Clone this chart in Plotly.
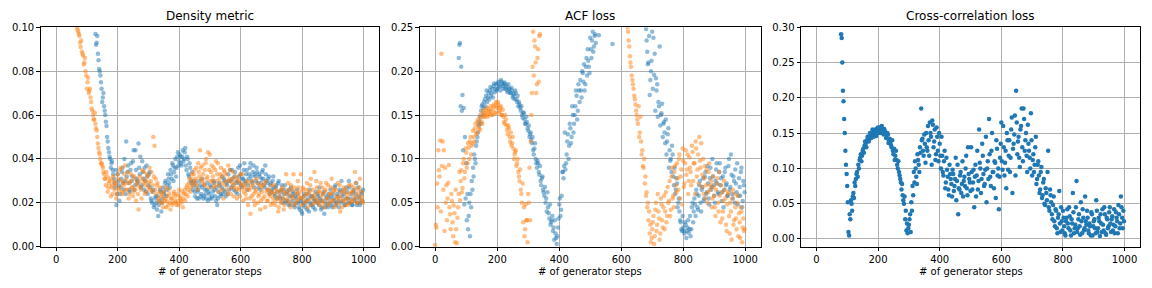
import plotly.graph_objects as go

STEP = 4

# ---------------- Density metric ----------------
density_blue_start = 128
density_blue = [
    0.097, 0.093, 0.088, 0.081, 0.078, 0.072, 0.068, 0.064, 0.060, 0.055,
    0.048, 0.043, 0.040, 0.038, 0.035, 0.031, 0.027, 0.019, 0.033, 0.028,
    0.024, 0.031, 0.036, 0.026, 0.030, 0.048, 0.034, 0.029, 0.025, 0.038,
    0.032, 0.044, 0.028, 0.035, 0.030, 0.047, 0.033, 0.027, 0.039, 0.031,
    0.036, 0.025, 0.032, 0.028, 0.034, 0.022, 0.020, 0.026, 0.019, 0.023,
    0.017, 0.014, 0.021, 0.025, 0.020, 0.027, 0.024, 0.030, 0.026, 0.033,
    0.029, 0.035, 0.031, 0.037, 0.034, 0.040, 0.036, 0.043, 0.039, 0.041,
    0.037, 0.044, 0.040, 0.045, 0.035, 0.040, 0.032, 0.036, 0.029, 0.026,
    0.030, 0.023, 0.027, 0.025, 0.022, 0.028, 0.024, 0.031, 0.023, 0.026,
    0.022, 0.029, 0.025, 0.022, 0.027, 0.023, 0.030, 0.026, 0.021, 0.019,
    0.025, 0.028, 0.024, 0.032, 0.026, 0.030, 0.023, 0.028, 0.033, 0.026,
    0.030, 0.035, 0.028, 0.032, 0.025, 0.030, 0.036, 0.029, 0.033, 0.027,
    0.031, 0.038, 0.030, 0.035, 0.028, 0.033, 0.038, 0.030, 0.034, 0.027,
    0.032, 0.036, 0.029, 0.033, 0.026, 0.031, 0.035, 0.028, 0.037, 0.030,
    0.026, 0.032, 0.028, 0.025, 0.030, 0.027, 0.023, 0.028, 0.025, 0.030,
    0.022, 0.026, 0.020, 0.024, 0.028, 0.021, 0.025, 0.019, 0.023, 0.027,
    0.021, 0.024, 0.018, 0.022, 0.026, 0.020, 0.017, 0.022, 0.015, 0.019,
    0.024, 0.020, 0.017, 0.022, 0.026, 0.019, 0.023, 0.018, 0.021, 0.025,
    0.020, 0.023, 0.027, 0.021, 0.018, 0.024, 0.015, 0.020, 0.023, 0.018,
    0.022, 0.026, 0.019, 0.024, 0.021, 0.028, 0.020, 0.023, 0.018, 0.025,
    0.030, 0.021, 0.024, 0.019, 0.027, 0.022, 0.030, 0.020, 0.024, 0.019,
    0.026, 0.022, 0.029, 0.020, 0.023, 0.019, 0.025, 0.021,
]
density_blue_b_start = 130
density_blue_b = [
    0.092, 0.096, 0.085, 0.080, 0.075, 0.066, 0.070, 0.062, 0.057, 0.050,
    0.045, 0.041, 0.036, 0.039, 0.033, 0.029, 0.035, 0.024, 0.030, 0.021,
    0.027, 0.034, 0.029, 0.040, 0.024, 0.032, 0.037, 0.026, 0.035, 0.030,
    0.039, 0.026, 0.044, 0.031, 0.029, 0.036, 0.041, 0.028, 0.034, 0.026,
    0.030, 0.037, 0.024, 0.033, 0.027, 0.021, 0.025, 0.018, 0.022, 0.020,
    0.023, 0.019, 0.026, 0.016, 0.022, 0.025, 0.029, 0.023, 0.028, 0.031,
    0.027, 0.033, 0.038, 0.030, 0.036, 0.032, 0.041, 0.037, 0.042, 0.038,
    0.041, 0.039, 0.043, 0.037, 0.041, 0.033, 0.038, 0.030, 0.034, 0.028,
    0.025, 0.029, 0.022, 0.026, 0.030, 0.023, 0.027, 0.022, 0.028, 0.024,
    0.026, 0.021, 0.024, 0.028, 0.022, 0.025, 0.029, 0.023, 0.027, 0.022,
    0.029, 0.023, 0.027, 0.024, 0.031, 0.025, 0.029, 0.024, 0.030, 0.035,
    0.027, 0.031, 0.026, 0.034, 0.029, 0.024, 0.032, 0.037, 0.028, 0.031,
    0.035, 0.029, 0.033, 0.026, 0.031, 0.036, 0.032, 0.029, 0.037, 0.033,
    0.030, 0.034, 0.027, 0.032, 0.029, 0.034, 0.031, 0.027, 0.033, 0.029,
    0.031, 0.024, 0.029, 0.026, 0.032, 0.024, 0.027, 0.022, 0.029, 0.023,
    0.025, 0.028, 0.022, 0.026, 0.020, 0.024, 0.021, 0.026, 0.019, 0.023,
    0.025, 0.019, 0.023, 0.020, 0.024, 0.018, 0.021, 0.016, 0.020, 0.023,
    0.018, 0.021, 0.024, 0.016, 0.020, 0.023, 0.019, 0.022, 0.017, 0.021,
    0.024, 0.019, 0.022, 0.017, 0.021, 0.025, 0.018, 0.022, 0.019, 0.024,
    0.020, 0.023, 0.018, 0.022, 0.027, 0.019, 0.024, 0.021, 0.026, 0.020,
    0.023, 0.026, 0.019, 0.022, 0.025, 0.020, 0.027, 0.022, 0.019, 0.025,
    0.021, 0.024, 0.019, 0.027, 0.022, 0.020, 0.024, 0.026,
]

density_orange_start = 68
density_orange = [
    0.100, 0.098, 0.096, 0.091, 0.089, 0.087, 0.084, 0.080, 0.072, 0.077,
    0.071, 0.068, 0.063, 0.060, 0.058, 0.056, 0.053, 0.047, 0.043, 0.040,
    0.038, 0.036, 0.033, 0.031, 0.034, 0.025, 0.029, 0.031, 0.027, 0.024,
    0.030, 0.028, 0.022, 0.033, 0.026, 0.035, 0.030, 0.024, 0.028, 0.037,
    0.031, 0.026, 0.022, 0.029, 0.033, 0.027, 0.025, 0.031, 0.021, 0.028,
    0.017, 0.032, 0.026, 0.035, 0.029, 0.024, 0.030, 0.033, 0.027, 0.036,
    0.030, 0.025, 0.050, 0.046, 0.031, 0.028, 0.022, 0.025, 0.020, 0.024,
    0.018, 0.022, 0.027, 0.021, 0.019, 0.024, 0.017, 0.022, 0.020, 0.025,
    0.023, 0.019, 0.021, 0.026, 0.022, 0.020, 0.018, 0.024, 0.021, 0.027,
    0.023, 0.029, 0.025, 0.031, 0.028, 0.033, 0.030, 0.036, 0.026, 0.034,
    0.044, 0.031, 0.037, 0.029, 0.035, 0.040, 0.032, 0.027, 0.042, 0.034,
    0.030, 0.036, 0.028, 0.039, 0.033, 0.025, 0.031, 0.036, 0.029, 0.022,
    0.034, 0.030, 0.026, 0.037, 0.031, 0.024, 0.029, 0.034, 0.027, 0.032,
    0.022, 0.030, 0.026, 0.033, 0.028, 0.021, 0.027, 0.024, 0.030, 0.019,
    0.026, 0.015, 0.023, 0.028, 0.021, 0.025, 0.031, 0.020, 0.024, 0.017,
    0.027, 0.022, 0.029, 0.018, 0.025, 0.021, 0.026, 0.023, 0.028, 0.020,
    0.024, 0.019, 0.026, 0.022, 0.018, 0.025, 0.021, 0.027, 0.017, 0.024,
    0.033, 0.022, 0.026, 0.020, 0.028, 0.023, 0.033, 0.019, 0.025, 0.021,
    0.027, 0.023, 0.033, 0.022, 0.026, 0.020, 0.024, 0.029, 0.021, 0.025,
    0.031, 0.019, 0.023, 0.034, 0.022, 0.027, 0.020, 0.025, 0.029, 0.021,
    0.024, 0.018, 0.026, 0.022, 0.028, 0.020, 0.024, 0.031, 0.021, 0.026,
    0.019, 0.023, 0.029, 0.022, 0.016, 0.025, 0.021, 0.027, 0.019, 0.024,
    0.022, 0.028, 0.020, 0.025, 0.021, 0.027, 0.034, 0.022, 0.026, 0.020,
    0.031, 0.023, 0.021,
]
density_orange_b_start = 70
density_orange_b = [
    0.099, 0.097, 0.093, 0.094, 0.088, 0.083, 0.086, 0.078, 0.075, 0.070,
    0.072, 0.066, 0.062, 0.058, 0.061, 0.054, 0.050, 0.045, 0.042, 0.038,
    0.037, 0.034, 0.031, 0.028, 0.032, 0.027, 0.030, 0.023, 0.028, 0.032,
    0.026, 0.029, 0.024, 0.031, 0.027, 0.036, 0.025, 0.029, 0.033, 0.026,
    0.029, 0.034, 0.024, 0.030, 0.027, 0.023, 0.032, 0.026, 0.029, 0.024,
    0.030, 0.027, 0.022, 0.031, 0.034, 0.028, 0.025, 0.032, 0.029, 0.026,
    0.034, 0.028, 0.032, 0.026, 0.024, 0.029, 0.021, 0.027, 0.023, 0.020,
    0.025, 0.021, 0.018, 0.023, 0.026, 0.020, 0.022, 0.019, 0.024, 0.021,
    0.020, 0.024, 0.019, 0.023, 0.021, 0.025, 0.022, 0.026, 0.024, 0.028,
    0.026, 0.031, 0.027, 0.033, 0.029, 0.035, 0.031, 0.028, 0.038, 0.032,
    0.036, 0.030, 0.033, 0.028, 0.038, 0.031, 0.043, 0.035, 0.030, 0.037,
    0.032, 0.027, 0.035, 0.030, 0.038, 0.028, 0.033, 0.026, 0.032, 0.035,
    0.028, 0.033, 0.024, 0.030, 0.035, 0.027, 0.031, 0.023, 0.029, 0.026,
    0.031, 0.027, 0.023, 0.029, 0.033, 0.025, 0.028, 0.022, 0.026, 0.029,
    0.022, 0.027, 0.030, 0.024, 0.019, 0.026, 0.029, 0.023, 0.028, 0.021,
    0.025, 0.028, 0.023, 0.030, 0.021, 0.026, 0.024, 0.019, 0.025, 0.022,
    0.028, 0.021, 0.025, 0.016, 0.023, 0.020, 0.026, 0.022, 0.019, 0.025,
    0.021, 0.029, 0.024, 0.018, 0.026, 0.022, 0.027, 0.020, 0.024, 0.030,
    0.022, 0.025, 0.019, 0.027, 0.023, 0.021, 0.026, 0.018, 0.024, 0.028,
    0.022, 0.026, 0.020, 0.024, 0.030, 0.021, 0.025, 0.019, 0.023, 0.027,
    0.020, 0.025, 0.029, 0.022, 0.019, 0.024, 0.027, 0.021, 0.025, 0.018,
    0.026, 0.022, 0.020, 0.028, 0.023, 0.018, 0.025, 0.021, 0.026, 0.022,
    0.019, 0.024, 0.028, 0.021, 0.025, 0.023, 0.029, 0.020, 0.024, 0.027,
    0.022, 0.025, 0.020,
]

# ---------------- ACF loss ----------------
acf_blue_early_start = 76
acf_blue_early = [
    0.215, 0.232, 0.205, 0.173, 0.158, 0.125, 0.095, 0.060, 0.035, 0.012,
    0.045, 0.065, 0.080, 0.100, 0.115, 0.125, 0.138, 0.148, 0.155, 0.162,
    0.158, 0.168, 0.172, 0.165, 0.175, 0.178, 0.172, 0.180, 0.183, 0.176,
    0.185, 0.180, 0.188, 0.183, 0.190, 0.185, 0.180, 0.187, 0.182, 0.178,
    0.185, 0.180, 0.175, 0.178, 0.172, 0.168, 0.175, 0.165, 0.160, 0.162,
    0.155, 0.150, 0.153, 0.145, 0.140, 0.142, 0.132, 0.125, 0.130, 0.118,
    0.110, 0.112, 0.100, 0.090, 0.095, 0.082, 0.075, 0.078, 0.065, 0.058,
    0.050, 0.040, 0.045, 0.032, 0.025, 0.030, 0.018, 0.008, 0.015, 0.003,
    0.022, 0.048, 0.035, 0.058, 0.085, 0.092, 0.088, 0.105, 0.128, 0.115,
    0.135, 0.125, 0.150, 0.140, 0.160, 0.172, 0.155, 0.178, 0.190, 0.170,
    0.198, 0.208, 0.185, 0.215, 0.225, 0.205, 0.238, 0.215, 0.245, 0.228,
    0.242,
]
acf_blue_early_b_start = 78
acf_blue_early_b = [
    0.230, 0.160, 0.155, 0.110, 0.048, 0.055, 0.030, 0.020, 0.050, 0.060,
    0.075, 0.090, 0.105, 0.095, 0.120, 0.130, 0.143, 0.140, 0.160, 0.150,
    0.165, 0.160, 0.178, 0.170, 0.168, 0.182, 0.175, 0.170, 0.186, 0.180,
    0.178, 0.186, 0.182, 0.178, 0.188, 0.183, 0.186, 0.180, 0.184, 0.176,
    0.180, 0.175, 0.181, 0.170, 0.174, 0.178, 0.168, 0.172, 0.165, 0.158,
    0.160, 0.147, 0.152, 0.140, 0.148, 0.135, 0.138, 0.128, 0.122, 0.125,
    0.105, 0.118, 0.095, 0.098, 0.085, 0.092, 0.070, 0.080, 0.062, 0.068,
    0.055, 0.062, 0.038, 0.048, 0.028, 0.035, 0.022, 0.030, 0.010, 0.012,
    0.032, 0.055, 0.042, 0.085, 0.078, 0.130, 0.095, 0.120, 0.100, 0.140,
    0.118, 0.160, 0.130, 0.150, 0.178, 0.145, 0.185, 0.165, 0.178, 0.200,
    0.188, 0.178, 0.205, 0.195, 0.212, 0.198, 0.225, 0.235, 0.222, 0.240,
    0.232,
]
acf_blue_top_steps = [528, 572]
acf_blue_top = [0.241, 0.231]
acf_blue_late_start = 680
acf_blue_late = [
    0.248, 0.222, 0.210, 0.173, 0.200, 0.245, 0.238, 0.220, 0.192, 0.185,
    0.165, 0.228, 0.150, 0.163, 0.140, 0.130, 0.145, 0.120, 0.135, 0.110,
    0.100, 0.115, 0.080, 0.090, 0.065, 0.072, 0.050, 0.040, 0.028, 0.018,
    0.022, 0.015, 0.025, 0.018, 0.030, 0.020, 0.012, 0.045, 0.028, 0.055,
    0.035, 0.060, 0.042, 0.070, 0.050, 0.065, 0.078, 0.055, 0.085, 0.062,
    0.072, 0.048, 0.090, 0.068, 0.080, 0.058, 0.075, 0.095, 0.062, 0.085,
    0.070, 0.052, 0.080, 0.065, 0.090, 0.072, 0.058, 0.100, 0.068, 0.082,
    0.055, 0.075, 0.088, 0.062, 0.048, 0.078, 0.058, 0.090, 0.052, 0.070,
]
acf_blue_late_b_start = 682
acf_blue_late_b = [
    0.235, 0.208, 0.240, 0.190, 0.212, 0.180, 0.196, 0.155, 0.178, 0.148,
    0.160, 0.138, 0.152, 0.125, 0.142, 0.118, 0.105, 0.128, 0.090, 0.098,
    0.085, 0.105, 0.070, 0.060, 0.078, 0.045, 0.055, 0.030, 0.020, 0.035,
    0.018, 0.028, 0.010, 0.022, 0.016, 0.035, 0.020, 0.050, 0.040, 0.048,
    0.065, 0.045, 0.058, 0.075, 0.040, 0.068, 0.052, 0.080, 0.060, 0.092,
    0.055, 0.078, 0.065, 0.100, 0.070, 0.050, 0.088, 0.072, 0.060, 0.095,
    0.078, 0.062, 0.045, 0.085, 0.070, 0.058, 0.092, 0.065, 0.105, 0.060,
    0.080, 0.050, 0.072, 0.095, 0.058, 0.068, 0.085, 0.045, 0.075, 0.062,
]

acf_orange_early_start = 0
acf_orange_early = [
    0.002, 0.022, 0.045, 0.087, 0.121, 0.220, 0.120, 0.110, 0.090, 0.070,
    0.055, 0.093, 0.037, 0.060, 0.028, 0.047, 0.005, 0.020, 0.033, 0.060,
    0.053, 0.087, 0.067, 0.100, 0.085, 0.107, 0.095, 0.113, 0.120, 0.105,
    0.118, 0.125, 0.135, 0.128, 0.142, 0.138, 0.133, 0.147, 0.140, 0.152,
    0.148, 0.155, 0.150, 0.157, 0.152, 0.155, 0.150, 0.160, 0.153, 0.165,
    0.158, 0.162, 0.155, 0.160, 0.150, 0.148, 0.140, 0.145, 0.133, 0.138,
    0.125, 0.130, 0.118, 0.112, 0.105, 0.110, 0.095, 0.085, 0.075, 0.065,
    0.050, 0.028, 0.012, 0.048, 0.030, 0.060, 0.090, 0.120, 0.175, 0.245,
    0.235, 0.210, 0.185, 0.225, 0.240,
]
acf_orange_early_b_start = 2
acf_orange_early_b = [
    0.025, 0.072, 0.110, 0.080, 0.040, 0.092, 0.065, 0.018, 0.050, 0.030,
    0.073, 0.045, 0.020, 0.052, 0.012, 0.038, 0.065, 0.004, 0.045, 0.085,
    0.075, 0.062, 0.095, 0.078, 0.112, 0.090, 0.118, 0.100, 0.125, 0.115,
    0.132, 0.120, 0.140, 0.130, 0.145, 0.135, 0.150, 0.142, 0.155, 0.148,
    0.152, 0.158, 0.148, 0.154, 0.160, 0.150, 0.157, 0.162, 0.152, 0.160,
    0.165, 0.153, 0.158, 0.150, 0.156, 0.142, 0.150, 0.138, 0.128, 0.135,
    0.120, 0.115, 0.125, 0.100, 0.108, 0.092, 0.100, 0.080, 0.088, 0.060,
    0.072, 0.045, 0.020, 0.030, 0.005, 0.050, 0.030, 0.150, 0.205, 0.195,
    0.228, 0.175, 0.215, 0.188, 0.242,
]
acf_orange_late_start = 620
acf_orange_late = [
    0.250, 0.235, 0.217, 0.205, 0.190, 0.180, 0.168, 0.155, 0.145, 0.160,
    0.130, 0.120, 0.110, 0.090, 0.072, 0.058, 0.045, 0.030, 0.015, 0.005,
    0.020, 0.035, 0.012, 0.050, 0.025, 0.040, 0.008, 0.055, 0.030, 0.045,
    0.020, 0.062, 0.035, 0.050, 0.075, 0.042, 0.090, 0.058, 0.085, 0.070,
    0.095, 0.065, 0.105, 0.080, 0.048, 0.098, 0.072, 0.110, 0.088, 0.060,
    0.102, 0.085, 0.115, 0.075, 0.095, 0.120, 0.080, 0.105, 0.125, 0.090,
    0.068, 0.100, 0.078, 0.055, 0.088, 0.062, 0.095, 0.070, 0.045, 0.080,
    0.058, 0.035, 0.072, 0.050, 0.085, 0.028, 0.062, 0.040, 0.075, 0.055,
    0.018, 0.060, 0.035, 0.050, 0.008, 0.065, 0.030, 0.045, 0.020, 0.058,
    0.038, 0.010, 0.040, 0.022, 0.018,
]
acf_orange_late_b_start = 622
acf_orange_late_b = [
    0.245, 0.228, 0.210, 0.195, 0.185, 0.172, 0.162, 0.150, 0.140, 0.125,
    0.148, 0.105, 0.092, 0.100, 0.080, 0.062, 0.050, 0.040, 0.025, 0.010,
    0.028, 0.003, 0.042, 0.018, 0.060, 0.032, 0.015, 0.048, 0.022, 0.058,
    0.040, 0.028, 0.068, 0.052, 0.035, 0.080, 0.055, 0.045, 0.092, 0.062,
    0.078, 0.100, 0.055, 0.088, 0.112, 0.068, 0.095, 0.082, 0.105, 0.075,
    0.090, 0.070, 0.108, 0.095, 0.060, 0.112, 0.088, 0.072, 0.098, 0.118,
    0.082, 0.060, 0.092, 0.070, 0.050, 0.085, 0.065, 0.075, 0.055, 0.068,
    0.045, 0.065, 0.078, 0.040, 0.058, 0.070, 0.032, 0.052, 0.065, 0.025,
    0.048, 0.062, 0.015, 0.040, 0.055, 0.025, 0.060, 0.032, 0.050, 0.012,
    0.028, 0.045, 0.005, 0.032, 0.020,
]

# ---------------- Cross-correlation loss ----------------
xcorr_start = 80
xcorr = [
    0.290, 0.250, 0.195, 0.150, 0.105, 0.075, 0.010, 0.035, 0.055, 0.040,
    0.065, 0.080, 0.085, 0.095, 0.105, 0.112, 0.120, 0.118, 0.128, 0.132,
    0.135, 0.140, 0.145, 0.142, 0.150, 0.146, 0.152, 0.148, 0.155, 0.150,
    0.158, 0.153, 0.155, 0.160, 0.152, 0.156, 0.150, 0.147, 0.148, 0.140,
    0.138, 0.130, 0.125, 0.128, 0.118, 0.112, 0.100, 0.095, 0.085, 0.070,
    0.062, 0.050, 0.028, 0.012, 0.008, 0.020, 0.035, 0.052, 0.075, 0.095,
    0.110, 0.088, 0.120, 0.105, 0.130, 0.185, 0.142, 0.118, 0.135, 0.150,
    0.125, 0.140, 0.165, 0.145, 0.168, 0.130, 0.155, 0.120, 0.145, 0.110,
    0.135, 0.100, 0.118, 0.090, 0.125, 0.080, 0.098, 0.070, 0.105, 0.085,
    0.060, 0.092, 0.075, 0.115, 0.082, 0.035, 0.070, 0.095, 0.078, 0.060,
    0.088, 0.100, 0.072, 0.130, 0.085, 0.068, 0.095, 0.080, 0.045, 0.105,
    0.090, 0.070, 0.155, 0.100, 0.085, 0.118, 0.075, 0.098, 0.052, 0.110,
    0.170, 0.088, 0.125, 0.095, 0.072, 0.108, 0.140, 0.090, 0.042, 0.115,
    0.165, 0.098, 0.130, 0.108, 0.072, 0.140, 0.118, 0.095, 0.155, 0.065,
    0.135, 0.175, 0.210, 0.120, 0.145, 0.102, 0.160, 0.130, 0.185, 0.125,
    0.150, 0.095, 0.135, 0.115, 0.178, 0.090, 0.120, 0.105, 0.145, 0.085,
    0.110, 0.065, 0.095, 0.058, 0.080, 0.050, 0.072, 0.055, 0.125, 0.040,
    0.062, 0.035, 0.048, 0.025, 0.042, 0.015, 0.030, 0.068, 0.010, 0.025,
    0.040, 0.018, 0.005, 0.030, 0.022, 0.045, 0.012, 0.028, 0.065, 0.008,
    0.020, 0.082, 0.015, 0.035, 0.006, 0.025, 0.042, 0.012, 0.060, 0.020,
    0.030, 0.008, 0.018, 0.038, 0.005, 0.025, 0.015, 0.055, 0.010, 0.030,
    0.004, 0.022, 0.042, 0.012, 0.035, 0.006, 0.028, 0.018, 0.045, 0.010,
    0.032, 0.020, 0.008, 0.038, 0.025, 0.048, 0.015, 0.060, 0.030, 0.040,
]
xcorr_b_start = 82
xcorr_b = [
    0.285, 0.210, 0.170, 0.125, 0.092, 0.052, 0.005, 0.028, 0.050, 0.060,
    0.058, 0.075, 0.092, 0.088, 0.100, 0.115, 0.110, 0.125, 0.122, 0.138,
    0.130, 0.145, 0.138, 0.150, 0.143, 0.155, 0.145, 0.153, 0.146, 0.157,
    0.150, 0.158, 0.150, 0.154, 0.148, 0.153, 0.143, 0.150, 0.136, 0.142,
    0.133, 0.140, 0.120, 0.112, 0.125, 0.105, 0.110, 0.090, 0.080, 0.078,
    0.055, 0.060, 0.040, 0.022, 0.015, 0.028, 0.010, 0.040, 0.062, 0.080,
    0.100, 0.078, 0.112, 0.095, 0.122, 0.140, 0.125, 0.148, 0.108, 0.130,
    0.160, 0.118, 0.150, 0.105, 0.162, 0.138, 0.112, 0.158, 0.125, 0.150,
    0.118, 0.145, 0.095, 0.110, 0.072, 0.115, 0.088, 0.062, 0.092, 0.078,
    0.098, 0.068, 0.085, 0.055, 0.105, 0.072, 0.090, 0.065, 0.110, 0.082,
    0.075, 0.118, 0.062, 0.092, 0.080, 0.130, 0.070, 0.098, 0.088, 0.060,
    0.125, 0.082, 0.108, 0.065, 0.135, 0.092, 0.078, 0.145, 0.100, 0.085,
    0.120, 0.075, 0.150, 0.095, 0.110, 0.058, 0.128, 0.100, 0.088, 0.135,
    0.110, 0.160, 0.090, 0.125, 0.150, 0.098, 0.140, 0.115, 0.172, 0.128,
    0.148, 0.090, 0.165, 0.138, 0.115, 0.155, 0.185, 0.110, 0.170, 0.140,
    0.118, 0.162, 0.125, 0.100, 0.140, 0.112, 0.095, 0.130, 0.078, 0.105,
    0.090, 0.070, 0.102, 0.062, 0.085, 0.048, 0.065, 0.095, 0.045, 0.070,
    0.052, 0.028, 0.060, 0.018, 0.040, 0.008, 0.035, 0.022, 0.045, 0.012,
    0.030, 0.008, 0.025, 0.042, 0.015, 0.032, 0.005, 0.022, 0.038, 0.015,
    0.045, 0.010, 0.028, 0.018, 0.052, 0.008, 0.030, 0.015, 0.025, 0.040,
    0.012, 0.022, 0.005, 0.035, 0.018, 0.028, 0.008, 0.040, 0.015, 0.025,
    0.035, 0.010, 0.020, 0.045, 0.008, 0.030, 0.015, 0.038, 0.022, 0.028,
    0.012, 0.042, 0.018, 0.030, 0.008, 0.035, 0.022, 0.045, 0.015, 0.025,
]

titles = ["Density metric", "ACF loss", "Cross-correlation loss"]
x_label = "# of generator steps"
x_ticks = [0, 200, 400, 600, 800, 1000]

BLUE = "#1f77b4"
ORANGE = "#ff7f0e"
FONT = "DejaVu Sans"


def steps_from(start, values):
    return [start + STEP * i for i in range(len(values))]


fig = go.Figure()


def add(parts, color, idx, opacity):
    xs, ys = [], []
    for start, vals in parts:
        if isinstance(start, list):
            xs += start
        else:
            xs += steps_from(start, vals)
        ys += vals
    sfx = "" if idx == 1 else str(idx)
    fig.add_trace(go.Scatter(
        x=xs, y=ys, mode="markers",
        marker=dict(color=color, size=4.5, opacity=opacity, line=dict(width=0)),
        xaxis="x" + sfx, yaxis="y" + sfx, showlegend=False, hoverinfo="skip",
    ))


add([(density_blue_start, density_blue), (density_blue_b_start, density_blue_b)], BLUE, 1, 0.5)
add([(density_orange_start, density_orange), (density_orange_b_start, density_orange_b)], ORANGE, 1, 0.5)

add([(acf_blue_early_start, acf_blue_early), (acf_blue_early_b_start, acf_blue_early_b),
     (acf_blue_top_steps, acf_blue_top),
     (acf_blue_late_start, acf_blue_late), (acf_blue_late_b_start, acf_blue_late_b)], BLUE, 2, 0.5)
add([(acf_orange_early_start, acf_orange_early), (acf_orange_early_b_start, acf_orange_early_b),
     (acf_orange_late_start, acf_orange_late), (acf_orange_late_b_start, acf_orange_late_b)], ORANGE, 2, 0.5)

add([(xcorr_start, xcorr), (xcorr_b_start, xcorr_b)], BLUE, 3, 1.0)

W, H = 1152, 288
x_domains = [(40.7 / W, 379 / W), (419.7 / W, 760.7 / W), (801 / W, 1140 / W)]
y_domain = (1 - 246.7 / H, 1 - 27.3 / H)
y_ranges = [(0, 0.1), (0, 0.25), (-0.011, 0.30)]
y_dticks = [0.02, 0.05, 0.05]

common = dict(
    showline=True, linecolor="black", linewidth=1, mirror=True,
    ticks="outside", ticklen=3.5, tickwidth=1, tickcolor="black",
    showgrid=True, gridcolor="#b0b0b0", gridwidth=1, zeroline=False,
    automargin=False,
    tickfont=dict(family=FONT, size=10, color="black"),
)

layout = dict(
    template="none",
    width=W, height=H, autosize=False,
    margin=dict(l=0, r=0, t=0, b=0, pad=0, autoexpand=False),
    paper_bgcolor="white", plot_bgcolor="white",
    font=dict(family=FONT, size=10, color="black"),
    showlegend=False,
    annotations=[],
)
for i in range(3):
    sfx = "" if i == 0 else str(i + 1)
    layout["xaxis" + sfx] = dict(
        domain=list(x_domains[i]), range=[-50, 1050], tickvals=x_ticks,
        anchor="y" + sfx, **common,
    )
    layout["yaxis" + sfx] = dict(
        domain=list(y_domain), range=list(y_ranges[i]), tick0=0, dtick=y_dticks[i],
        tickformat=".2f", anchor="x" + sfx, **common,
    )
    layout["annotations"].append(dict(
        text=titles[i], xref="x" + sfx + " domain", x=0.5, yref="paper",
        y=1 - 16 / H, yanchor="middle", xanchor="center", showarrow=False,
        font=dict(family=FONT, size=12, color="black"),
    ))
    layout["annotations"].append(dict(
        text=x_label, xref="x" + sfx + " domain", x=0.5, yref="paper",
        y=1 - 271.7 / H, yanchor="middle", xanchor="center", showarrow=False,
        font=dict(family=FONT, size=10, color="black"),
    ))

fig.update_layout(**layout)
fig.write_html(
    "out.html",
    config={"displayModeBar": False, "responsive": False},
    post_script=(
        "document.documentElement.style.margin='0';"
        "document.documentElement.style.overflow='hidden';"
        "document.body.style.margin='0';"
        "document.body.style.overflow='hidden';"
    ),
)
